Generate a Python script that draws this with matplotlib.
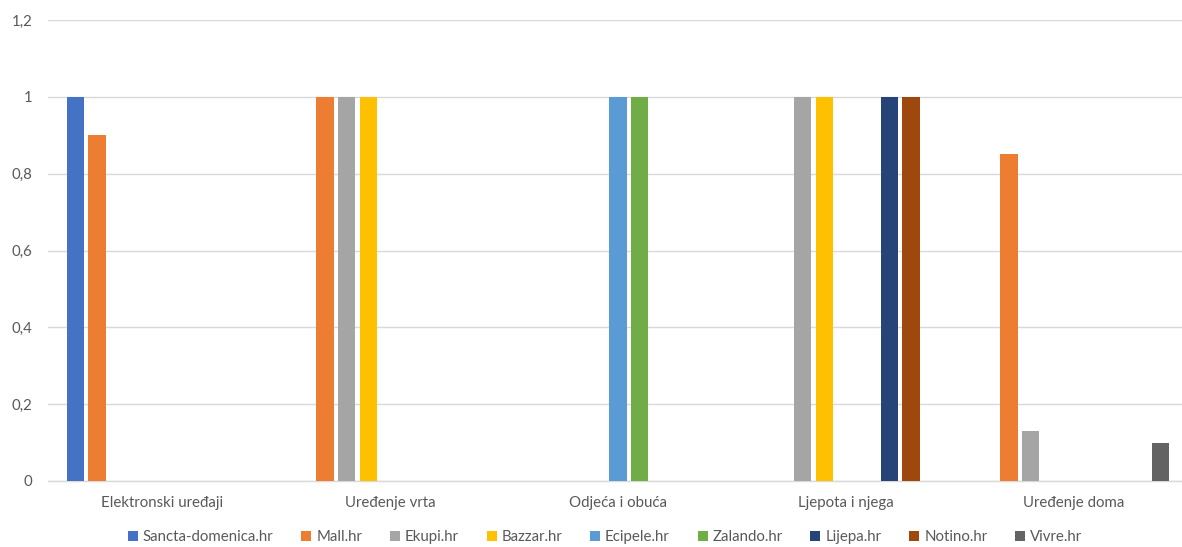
import numpy as np
import matplotlib.pyplot as plt

# Data
categories = ['Elektronski uređaji', 'Uređenje vrta', 'Odjeća i obuća',
              'Ljepota i njega', 'Uređenje doma']
series_names = ['Sancta-domenica.hr', 'Mall.hr', 'Ekupi.hr', 'Bazzar.hr',
                'Ecipele.hr', 'Zalando.hr', 'Lijepa.hr', 'Notino.hr', 'Vivre.hr']
sancta = [1, 0, 0, 0, 0]
mall = [0.9, 1, 0, 0, 0.85]
ekupi = [0, 1, 0, 1, 0.13]
bazzar = [0, 1, 0, 1, 0]
ecipele = [0, 0, 1, 0, 0]
zalando = [0, 0, 1, 0, 0]
lijepa = [0, 0, 0, 1, 0]
notino = [0, 0, 0, 1, 0]
vivre = [0, 0, 0, 0, 0.1]
series_values = [sancta, mall, ekupi, bazzar, ecipele, zalando, lijepa, notino, vivre]

colors = ['#4472C4', '#ED7D31', '#A5A5A5', '#FFC000', '#5B9BD5',
          '#70AD47', '#264478', '#9E480E', '#636363']

TEXT = '#595959'
GRID = '#D9D9D9'
FS = 10.8

plt.rcParams['font.family'] = ['Lato', 'DejaVu Sans']
plt.rcParams['font.size'] = FS

W, H = 1182, 547
fig = plt.figure(figsize=(W / 100, H / 100), dpi=100)
ax = fig.add_axes([48 / W, (H - 481) / H, 1140 / W, 461 / H])

x = np.arange(len(categories))
step = 0.095
width = 0.076
for i, (name, vals) in enumerate(zip(series_names, series_values)):
    offs = (i - 4) * step
    ax.bar(x + offs, vals, width=width, color=colors[i], label=name, zorder=3)

ax.set_xlim(-0.5, 4.5)
ax.set_ylim(0, 1.2)
ax.set_yticks([0, 0.2, 0.4, 0.6, 0.8, 1.0, 1.2])
ax.set_yticklabels(['0', '0,2', '0,4', '0,6', '0,8', '1', '1,2'])
ax.set_xticks(x)
ax.set_xticklabels(categories)
ax.tick_params(axis='both', length=0, colors=TEXT, labelsize=FS)
ax.tick_params(axis='y', pad=11)
ax.tick_params(axis='x', pad=11)

ax.grid(axis='y', color=GRID, linewidth=1, zorder=0)
ax.grid(axis='x', visible=False)
for s in ['top', 'right', 'left']:
    ax.spines[s].set_visible(False)
ax.spines['bottom'].set_color(GRID)
ax.spines['bottom'].set_linewidth(1)

leg = fig.legend(loc='center', bbox_to_anchor=(605 / W, (H - 537) / H), ncol=9,
                 frameon=False, handlelength=0.67, handleheight=0.67,
                 handletextpad=0.33, columnspacing=1.85, fontsize=FS)
for t in leg.get_texts():
    t.set_color(TEXT)

fig.savefig('out.png', dpi=100)
